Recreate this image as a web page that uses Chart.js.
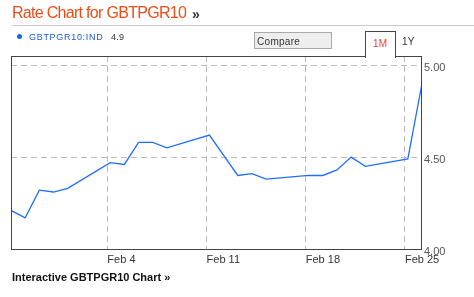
<!DOCTYPE html>
<html lang="en">
<head>
    <meta charset="UTF-8">
    <title>Rate Chart for GBTPGR10</title>
    <script src="https://cdn.jsdelivr.net/npm/chart.js"></script>
    <style>
        body { margin: 0; background: #fff; font-family: Arial, "Liberation Sans", sans-serif; }
        #wrap { position: relative; width: 474px; height: 297px; overflow: hidden; }
        #wrap canvas { position: absolute; left: 0; top: 0; }
        .abs { position: absolute; line-height: 1; white-space: nowrap; }
        #title { left: 12px; top: 5px; font-size: 16px; color: #f04b14; letter-spacing: -0.7px; }
        #titleArrow { left: 192px; top: 7px; font-size: 14px; font-weight: bold; color: #333; }
        #sep { left: 12px; top: 25px; width: 462px; height: 1px; background: #ccc; }
        #dot { left: 17px; top: 34px; width: 5px; height: 5px; border-radius: 50%; background: #1565f0; }
        #sym { left: 29px; top: 33px; font-size: 9px; letter-spacing: 0.7px; color: #1a5cd8; }
        #last { left: 111px; top: 33px; font-size: 9px; letter-spacing: 0.3px; color: #333; }
        #compare { left: 254px; top: 32px; width: 74px; height: 15px; border: 1px solid #aaa; background: #eee;
                   font-size: 10px; letter-spacing: 0.3px; color: #333; padding-left: 2px; box-sizing: content-box; line-height: 17px; }
        #tab { left: 365px; top: 31px; width: 29px; height: 26px; border: 1px solid #444; border-bottom: none;
               background: #fff; z-index: 2; }
        #tab span { position: absolute; left: 7px; top: 7px; font-size: 10px; color: #f04b14; letter-spacing: 0.3px; line-height: 1; }
        #oneY { left: 402px; top: 37px; font-size: 10px; color: #333; letter-spacing: 0.3px; }
        #footer { left: 12px; top: 272px; font-size: 11px; font-weight: bold; color: #111; }
    </style>
</head>
<body>
<div id="wrap">
    <canvas id="grafico" width="474" height="297"></canvas>
    <div class="abs" id="title">Rate Chart for GBTPGR10</div>
    <div class="abs" id="titleArrow">&raquo;</div>
    <div class="abs" id="sep"></div>
    <div class="abs" id="dot"></div>
    <div class="abs" id="sym">GBTPGR10:IND</div>
    <div class="abs" id="last">4.9</div>
    <div class="abs" id="compare">Compare</div>
    <div class="abs" id="tab"><span>1M</span></div>
    <div class="abs" id="oneY">1Y</div>
    <div class="abs" id="footer">Interactive GBTPGR10 Chart &raquo;</div>
</div>

<script>
    // dias de negociação (2013) e rendimentos
    const datas = ['2013-01-28', '2013-01-29', '2013-01-30', '2013-01-31', '2013-02-01',
                   '2013-02-04', '2013-02-05', '2013-02-06', '2013-02-07', '2013-02-08',
                   '2013-02-11', '2013-02-13', '2013-02-14', '2013-02-15',
                   '2013-02-18', '2013-02-19', '2013-02-20', '2013-02-21', '2013-02-22',
                   '2013-02-25', '2013-02-26'];
    const valores = [4.21, 4.17, 4.32, 4.31, 4.33,
                     4.47, 4.46, 4.58, 4.58, 4.55,
                     4.62, 4.40, 4.41, 4.38,
                     4.40, 4.40, 4.43, 4.50, 4.45,
                     4.49, 4.90];
    const ticksX = ['2013-02-04', '2013-02-11', '2013-02-18', '2013-02-25'];
    const labelsX = ['Feb 4', 'Feb 11', 'Feb 18', 'Feb 25'];
    const ticksY = [4.00, 4.50, 5.00];

    const DIA = 86400000;
    const inicio = Date.parse(datas[0]);
    const dia = d => (Date.parse(d) - inicio) / DIA;
    const pontos = datas.map((d, i) => ({ x: dia(d), y: valores[i] }));
    const fimX = dia(datas[datas.length - 1]);

    // moldura em volta da área do gráfico
    const moldura = {
        id: 'moldura',
        afterDraw(chart) {
            const a = chart.chartArea, ctx = chart.ctx;
            ctx.save();
            ctx.strokeStyle = '#444';
            ctx.lineWidth = 1;
            ctx.strokeRect(Math.round(a.left) + 0.5, Math.round(a.top) + 0.5,
                           Math.round(a.right - a.left) - 1, Math.round(a.bottom - a.top));
            ctx.restore();
        }
    };

    new Chart(document.getElementById('grafico'), {
        type: 'line',
        data: {
            datasets: [{
                label: 'GBTPGR10:IND',
                data: pontos,
                borderColor: '#1f6fff',
                borderWidth: 1.3,
                pointRadius: 0,
                tension: 0,
                fill: false
            }]
        },
        options: {
            responsive: false,
            animation: false,
            devicePixelRatio: 1,
            layout: { padding: { left: 11, top: 56, right: 0, bottom: 0 } },
            plugins: { legend: { display: false }, tooltip: { enabled: false } },
            scales: {
                x: {
                    type: 'linear',
                    min: 0,
                    max: fimX,
                    afterBuildTicks: s => { s.ticks = ticksX.map(d => ({ value: dia(d) - 0.2 })); },
                    afterFit: s => { s.height = 48; },
                    grid: { color: '#bbb', lineWidth: 1, drawTicks: false },
                    border: { display: false, dash: [6, 4] },
                    ticks: {
                        align: 'start',
                        padding: 4,
                        color: '#333',
                        font: { family: 'Arial, "Liberation Sans"', size: 11 },
                        maxRotation: 0,
                        autoSkip: false,
                        callback: (v, i) => labelsX[i]
                    }
                },
                y: {
                    position: 'right',
                    min: 4.0,
                    max: 5.05,
                    afterBuildTicks: s => { s.ticks = ticksY.map(v => ({ value: v })); },
                    afterFit: s => { s.width = 52; },
                    grid: { color: '#bbb', lineWidth: 1, drawTicks: false },
                    border: { display: false, dash: [6, 4] },
                    ticks: {
                        padding: 2,
                        labelOffset: 3,
                        color: '#555',
                        font: { family: 'Arial, "Liberation Sans"', size: 11 },
                        callback: v => Number(v).toFixed(2)
                    }
                }
            }
        },
        plugins: [moldura]
    });
</script>
</body>
</html>
